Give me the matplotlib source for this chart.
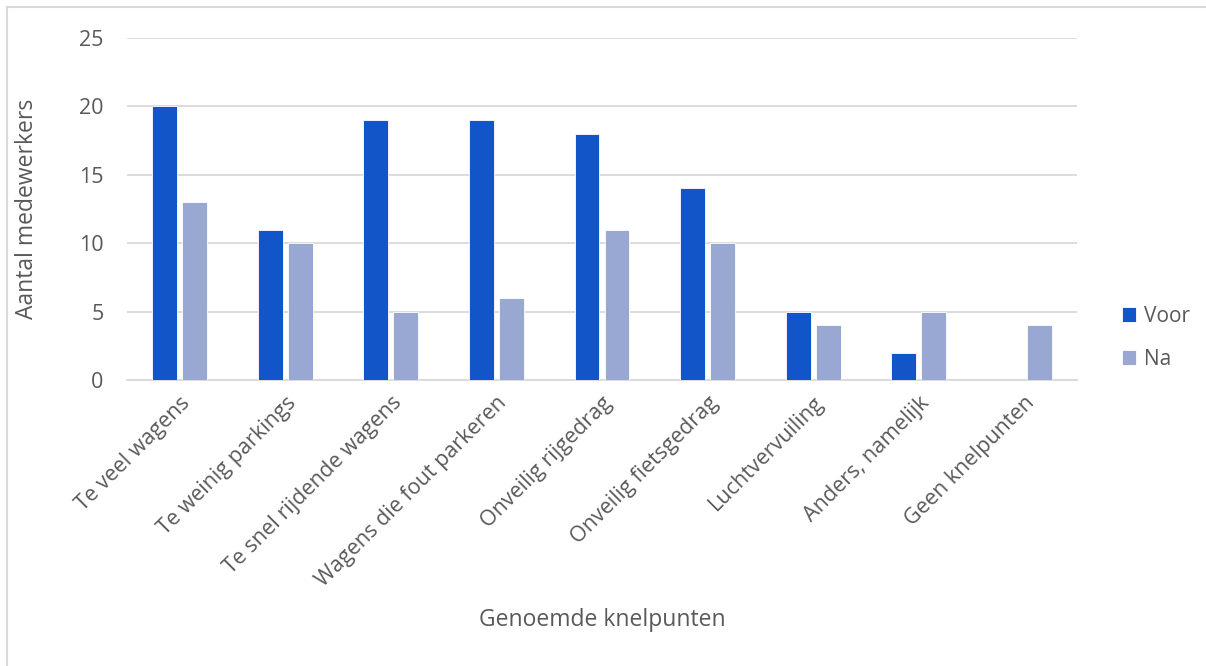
import matplotlib
matplotlib.use("Agg")
import matplotlib.pyplot as plt
import numpy as np
from matplotlib.lines import Line2D

categories = [
    "Te veel wagens",
    "Te weinig parkings",
    "Te snel rijdende wagens",
    "Wagens die fout parkeren",
    "Onveilig rijgedrag",
    "Onveilig fietsgedrag",
    "Luchtvervuiling",
    "Anders, namelijk",
    "Geen knelpunten",
]
voor = [20, 11, 19, 19, 18, 14, 5, 2, 0]
na = [13, 10, 5, 6, 11, 10, 4, 5, 4]
series_names = ["Voor", "Na"]
y_ticks = [0, 5, 10, 15, 20, 25]

plt.rcParams["font.family"] = ["Open Sans", "DejaVu Sans"]
text_color = "#595959"
grid_color = "#D9D9D9"
c_voor = "#1155C8"
c_na = "#99A8D2"

W, H = 1206, 666
fig = plt.figure(figsize=(W / 100, H / 100), dpi=100)
ax = fig.add_axes([127 / W, 1 - 380 / H, (1077 - 127) / W, (380 - 38) / H])

x = np.arange(len(categories))
bw = 0.235
off = 0.142
ax.bar(x - off, voor, width=bw, color=c_voor, edgecolor="white", linewidth=0.6,
       label=series_names[0], zorder=3)
ax.bar(x + off, na, width=bw, color=c_na, edgecolor="white", linewidth=0.6,
       label=series_names[1], zorder=3)

ax.set_xlim(-0.5, len(categories) - 0.5)
ax.set_ylim(0, 25)
ax.set_yticks(y_ticks)
ax.set_yticklabels([str(t) for t in y_ticks], fontsize=15.5, color=text_color)
ax.yaxis.grid(True, color=grid_color, linewidth=1.3, zorder=0)
ax.set_axisbelow(True)
ax.tick_params(axis="y", length=0, pad=17)
ax.tick_params(axis="x", length=0, pad=9)
ax.set_xticks(x)
ax.set_xticklabels(categories, rotation=45, ha="right", va="top",
                   rotation_mode="anchor", fontsize=15.5, color=text_color)
for side in ["top", "right", "left"]:
    ax.spines[side].set_visible(False)
ax.spines["bottom"].set_color(grid_color)
ax.spines["bottom"].set_linewidth(1.3)

ax.set_ylabel("Aantal medewerkers", fontsize=16.5, color=text_color)
ax.yaxis.set_label_coords(-88 / (1077 - 127), 0.5)
fig.text(602 / W, 1 - 620 / H, "Genoemde knelpunten", ha="center", va="center",
         fontsize=16.5, color=text_color)

leg = fig.legend(loc="center left", bbox_to_anchor=(1103 / W, 1 - 338 / H),
                 frameon=False, fontsize=15, handlelength=0.7, handleheight=0.7,
                 handletextpad=0.35, labelspacing=1.05)
for t in leg.get_texts():
    t.set_color(text_color)

# chart-area frame edges
fig.add_artist(Line2D([7 / W, 7 / W], [0, 1 - 7 / H], transform=fig.transFigure,
                      color=grid_color, linewidth=1.5))
fig.add_artist(Line2D([7 / W, 1], [1 - 7 / H, 1 - 7 / H], transform=fig.transFigure,
                      color=grid_color, linewidth=1.5))

fig.savefig("out.png", dpi=100, facecolor="white")
